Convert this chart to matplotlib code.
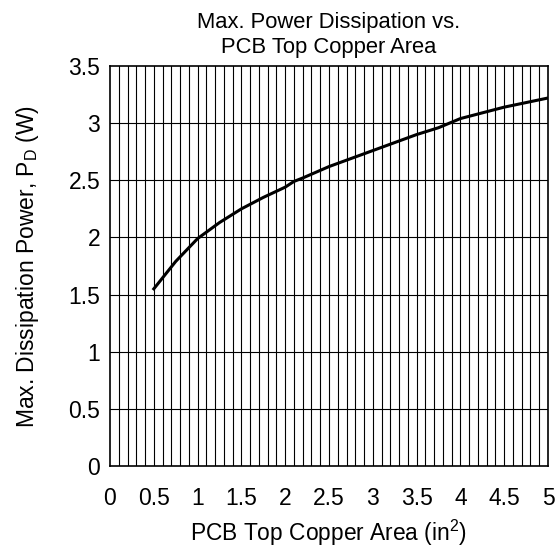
import matplotlib.pyplot as plt
import numpy as np

# Дані кривої
area = [0.5, 0.75, 1.0, 1.25, 1.5, 1.75, 2.0, 2.1, 2.2, 2.5, 2.75, 3.0, 3.25, 3.5, 3.75, 4.0, 4.25, 4.5, 4.75, 5.0]
power = [1.55, 1.79, 1.99, 2.13, 2.25, 2.35, 2.44, 2.49, 2.52, 2.62, 2.69, 2.76, 2.83, 2.90, 2.96, 3.04, 3.09, 3.14, 3.18, 3.22]

x_ticks = [0, 0.5, 1, 1.5, 2, 2.5, 3, 3.5, 4, 4.5, 5]
y_ticks = [0, 0.5, 1, 1.5, 2, 2.5, 3, 3.5]

plt.rcParams['font.family'] = ['Liberation Sans', 'DejaVu Sans']

fig = plt.figure(figsize=(5.58, 5.47), dpi=100)
ax = fig.add_axes([110 / 558, 81 / 547, 438 / 558, 400 / 547])

ax.set_xlim(0, 5)
ax.set_ylim(0, 3.5)

# Сітка
for xv in np.arange(0.1, 5.0, 0.1):
    ax.axvline(xv, color='black', lw=0.8, zorder=1)
for yv in y_ticks[1:-1]:
    ax.axhline(yv, color='black', lw=0.8, zorder=1)

ax.plot(area, power, color='black', lw=2.2, zorder=3)

ax.set_xticks(x_ticks)
ax.set_xticklabels(['0', '0.5', '1', '1.5', '2', '2.5', '3', '3.5', '4', '4.5', '5'])
ax.set_yticks(y_ticks)
ax.set_yticklabels(['0', '0.5', '1', '1.5', '2', '2.5', '3', '3.5'])
ax.tick_params(length=0, labelsize=16.5)
ax.tick_params(axis='x', pad=15)
ax.tick_params(axis='y', pad=7)
for s in ax.spines.values():
    s.set_linewidth(1.2)

ax.set_xlabel('PCB Top Copper Area (in$^\\mathregular{2}$)', fontsize=16.4, labelpad=6)
ax.set_ylabel('Max. Dissipation Power, P$_\\mathregular{D}$ (W)', fontsize=16.5, labelpad=20)
ax.set_title('Max. Power Dissipation vs.\nPCB Top Copper Area', fontsize=15.8, pad=9, linespacing=1.27)

fig.savefig('out.png', dpi=100)
